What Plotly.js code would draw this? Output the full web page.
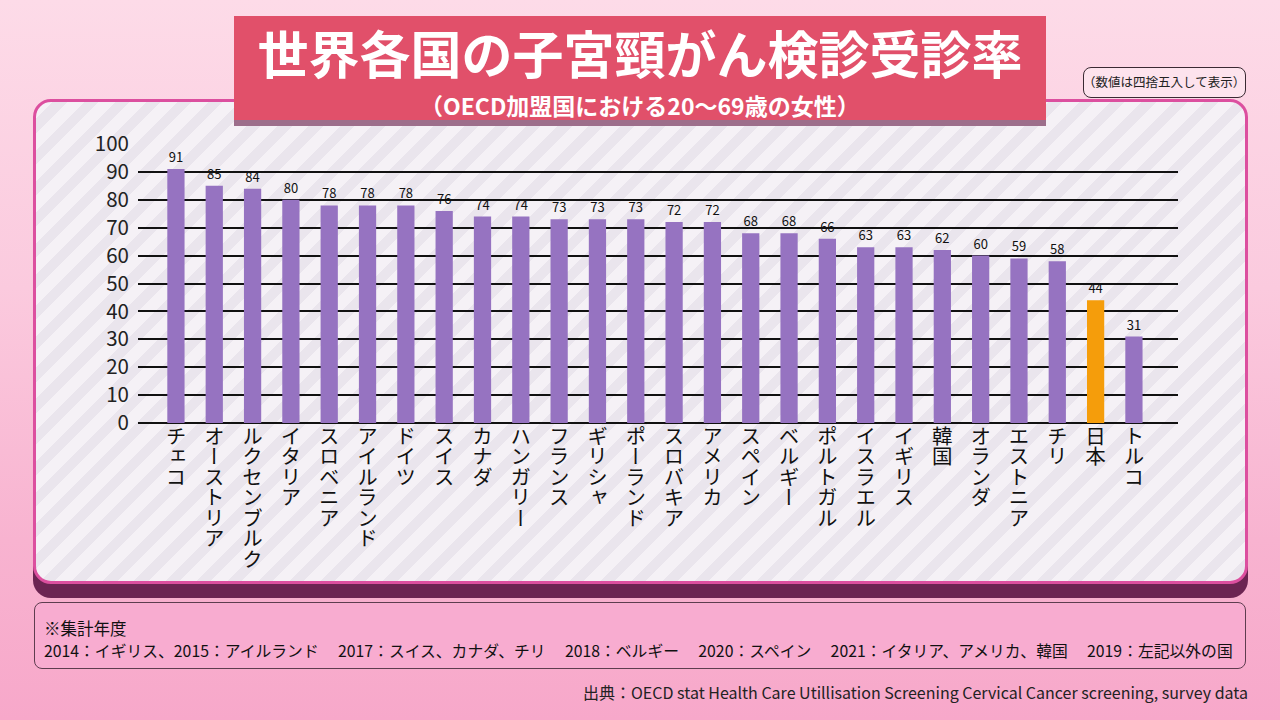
<!DOCTYPE html>
<html>
<head>
<meta charset="utf-8">
<script src="https://cdn.plot.ly/plotly-3.0.1.min.js"></script>
<style>
  html, body { margin: 0; padding: 0; }
  body { width: 1280px; height: 720px; overflow: hidden; position: relative;
         background: linear-gradient(180deg, #fddbe8 0%, #fbcade 40%, #f8b3d0 75%, #f7a8ca 100%);
         font-family: "Noto Sans CJK JP", sans-serif; }
  .deco { position: absolute; box-sizing: border-box; }
  #panelShadow { left: 33px; top: 110px; width: 1215px; height: 488px; background: #6c2452; border-radius: 18px; }
  #panel { left: 33px; top: 99px; width: 1215px; height: 485px; border: 3px solid #dc4f9f; border-radius: 18px;
           background: repeating-linear-gradient(135deg, #f5f1f6 0px, #f5f1f6 12px, #eae5ed 12px, #eae5ed 22px); }
  #bannerShadow { left: 234px; top: 22px; width: 812px; height: 104px; background: #9d6e8b; }
  #banner { left: 234px; top: 16px; width: 812px; height: 104px; background: #e1506a; }
  #noteBox { left: 1083px; top: 67px; width: 163px; height: 31px; border: 1.5px solid #3a2a33; border-radius: 8px; background: #fde3ed; }
  #yearsBox { left: 34px; top: 602px; width: 1212px; height: 67px; border: 1.5px solid #5e3d4f; border-radius: 8px; background: #f8acd0; }
  #chart { position: absolute; left: 0; top: 0; width: 1280px; height: 720px; }
</style>
</head>
<body>
<div class="deco" id="panelShadow"></div>
<div class="deco" id="panel"></div>
<div class="deco" id="bannerShadow"></div>
<div class="deco" id="banner"></div>
<div class="deco" id="noteBox"></div>
<div class="deco" id="yearsBox"></div>
<div id="chart"></div>
<script>
// ---- data ----
const countries = ["チェコ","オーストリア","ルクセンブルク","イタリア","スロベニア","アイルランド","ドイツ","スイス","カナダ","ハンガリー","フランス","ギリシャ","ポーランド","スロバキア","アメリカ","スペイン","ベルギー","ポルトガル","イスラエル","イギリス","韓国","オランダ","エストニア","チリ","日本","トルコ"];
const rates = [91,85,84,80,78,78,78,76,74,74,73,73,73,72,72,68,68,66,63,63,62,60,59,58,44,31];
const highlight = "日本";
const yTicks = [0,10,20,30,40,50,60,70,80,90,100];

const titleText = "世界各国の子宮頸がん検診受診率";
const subtitleText = "（OECD加盟国における20〜69歳の女性）";
const roundNote = "（数値は四捨五入して表示）";
const yearsHeader = "※集計年度";
const yearsLine = "2014：イギリス、2015：アイルランド　 2017：スイス、カナダ、チリ　 2018：ベルギー　 2020：スペイン　 2021：イタリア、アメリカ、韓国　 2019：左記以外の国";
const sourceText = "出典：OECD stat Health Care Utillisation Screening Cervical Cancer screening, survey data";

// ---- build ----
const FONT = '"Noto Sans CJK JP", "Noto Sans", sans-serif';
const PURPLE = "#9673c1", ORANGE = "#f59d0b";

const trace = {
  type: "bar",
  x: countries,
  y: rates,
  width: 0.45,
  marker: { color: countries.map(c => c === highlight ? ORANGE : PURPLE) },
  text: rates.map(String),
  textposition: "outside",
  textfont: { family: FONT, size: 13, color: "#111" },
  cliponaxis: false,
  hoverinfo: "skip"
};

const H = 720, T = 144, B = 297, PH = H - T - B;
const py = yPix => (H - B - yPix) / PH;   // pixel row -> paper y
const px = xPix => (xPix - 138) / 1040;   // pixel column -> paper x

const layout = {
  width: 1280, height: 720,
  margin: { l: 138, r: 102, t: T, b: B },
  paper_bgcolor: "rgba(0,0,0,0)",
  plot_bgcolor: "rgba(0,0,0,0)",
  showlegend: false,
  font: { family: FONT, color: "#111" },
  title: {
    text: "<b>" + titleText + "</b>",
    x: 0.5, xref: "container", xanchor: "center",
    y: 1 - 56/720, yref: "container", yanchor: "middle",
    font: { family: FONT, size: 51, color: "#ffffff", weight: 900 }
  },
  xaxis: {
    type: "category",
    range: [-0.99, 26.15],
    tickvals: countries,
    ticktext: countries,
    tickangle: 0,
    tickfont: { family: FONT, size: 20.5, color: "#111" },
    ticks: "", showgrid: false, showline: false, zeroline: false,
    ticklabelstandoff: 1,
    fixedrange: true
  },
  yaxis: {
    range: [0, 100],
    tickvals: yTicks,
    tickfont: { family: FONT, size: 20.5, color: "#222" },
    showgrid: true, gridcolor: "#111", gridwidth: 2,
    zeroline: true, zerolinecolor: "#111", zerolinewidth: 2,
    showline: false, ticks: "",
    ticklabelstandoff: 8,
    fixedrange: true
  },
  annotations: [
    { text: "<b>" + subtitleText + "</b>", xref: "paper", yref: "paper", x: px(640), y: py(105), xanchor: "center", yanchor: "middle", showarrow: false, font: { family: FONT, size: 23, color: "#ffffff" } },
    { text: roundNote, xref: "paper", yref: "paper", x: px(1164), y: py(82), xanchor: "center", yanchor: "middle", showarrow: false, font: { family: FONT, size: 12.5, color: "#222" } },
    { text: yearsHeader, xref: "paper", yref: "paper", x: px(42), y: py(628), xanchor: "left", yanchor: "middle", showarrow: false, font: { family: FONT, size: 16.5, color: "#111" } },
    { text: yearsLine, xref: "paper", yref: "paper", x: px(42), y: py(650), xanchor: "left", yanchor: "middle", showarrow: false, font: { family: FONT, size: 15.8, color: "#111" } },
    { text: sourceText, xref: "paper", yref: "paper", x: px(1250), y: py(692), xanchor: "right", yanchor: "middle", showarrow: false, font: { family: FONT, size: 16, color: "#222" } }
  ]
};

Plotly.newPlot("chart", [trace], layout, { staticPlot: true, displayModeBar: false }).then(gd => {
  // Category labels are written vertically (tategaki), as in the reference.
  gd.querySelectorAll(".xtick text").forEach(t => {
    const bb = t.getBBox();
    const cx = bb.x + bb.width / 2;
    const top = bb.y + 4;
    t.style.writingMode = "vertical-rl";
    t.setAttribute("text-anchor", "start");
    t.setAttribute("x", cx);
    t.setAttribute("y", top);
  });
});
</script>
</body>
</html>
